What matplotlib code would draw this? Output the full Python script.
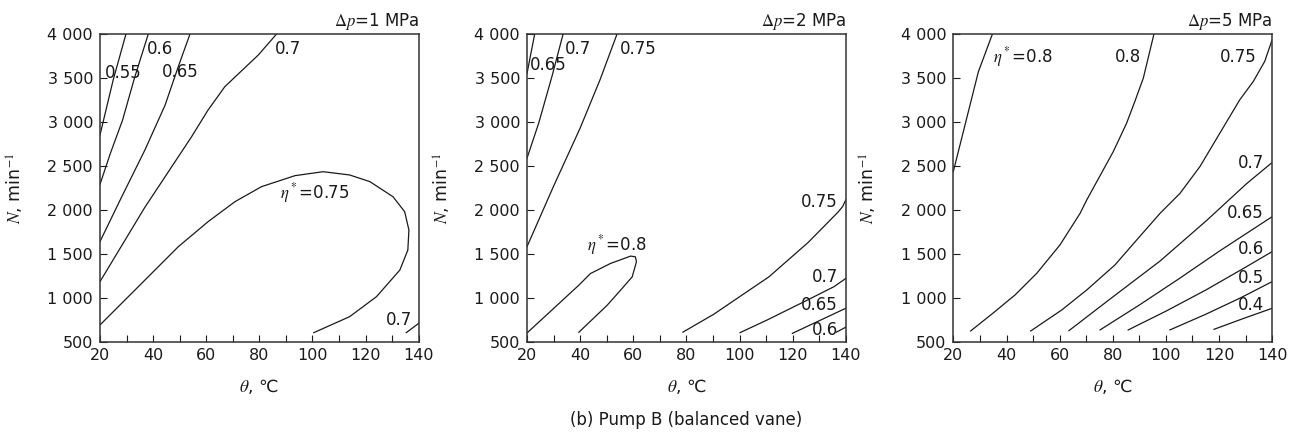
import matplotlib.pyplot as plt

plt.rcParams['font.family'] = ['DejaVu Sans']
plt.rcParams['mathtext.fontset'] = 'stix'

THETA_TICKS = [20, 40, 60, 80, 100, 120, 140]
N_TICKS = [500, 1000, 1500, 2000, 2500, 3000, 3500, 4000]
N_TICK_LABELS = ['500', '1 000', '1 500', '2 000', '2 500', '3 000', '3 500', '4 000']
PRESSURES = [1, 2, 5]

# efficiency contours, dp = 1 MPa  (theta in degC, N in 1/min)
t1_055 = [20, 25, 29.8]
n1_055 = [2850, 3480, 4000]
t1_060 = [20, 24, 28.5, 33, 38.2]
n1_060 = [2290, 2650, 3020, 3500, 4000]
t1_065 = [20, 28.2, 36.9, 44.5, 49.5, 53.9]
n1_065 = [1640, 2150, 2680, 3190, 3630, 4000]
t1_070 = [20, 36.9, 54.5, 60.7, 67.0, 79.6, 86.5]
n1_070 = [1185, 2030, 2833, 3136, 3401, 3761, 4000]
t1_075 = [20, 33.2, 49.5, 60.7, 70.8, 80.8, 93.4, 104.0, 114.0, 121.6, 130.3,
          134.7, 136.3, 135.9, 132.9, 124.1, 114.0, 100.5]
n1_075 = [693, 1091, 1583, 1867, 2094, 2265, 2390, 2435, 2398, 2322, 2151,
          1981, 1773, 1545, 1318, 1015, 788, 606]
t1_070b = [135.3, 140]
n1_070b = [606, 712]

# dp = 2 MPa
t2_065 = [20, 22.9]
n2_065 = [3550, 4000]
t2_070 = [20, 24.4, 29.4, 33.6]
n2_070 = [2588, 2986, 3518, 4000]
t2_075 = [20, 30, 40, 47.5, 53.9]
n2_075 = [1583, 2270, 2930, 3480, 4000]
t2_080 = [20, 39.5, 43.9, 51.4, 59.0, 60.8, 61.2, 59.6, 55.2, 50.2, 39.5]
n2_080 = [602, 1145, 1278, 1392, 1476, 1468, 1411, 1240, 1088, 918, 610]
t2_075b = [78.7, 90.3, 111.1, 125.8, 136.9, 138.8, 140]
n2_075b = [612, 815, 1241, 1630, 1970, 2038, 2114]
t2_070b = [100.2, 110.4, 125.6, 135.6, 140]
n2_070b = [606, 750, 977, 1129, 1222]
t2_065b = [119.9, 130.6, 140]
n2_065b = [598, 750, 883]
t2_060b = [136.5, 140]
n2_060b = [612, 668]

# dp = 5 MPa
t3_080a = [20, 29.4, 34.7]
n3_080a = [2440, 3570, 4000]
t3_080 = [26.5, 35, 43.2, 51.4, 60.1, 67.7, 70.2, 76.4, 80.2, 85.2, 88.3, 91.5, 95.5]
n3_080 = [625, 830, 1034, 1281, 1602, 1962, 2114, 2455, 2664, 2986, 3233, 3499, 4000]
t3_075 = [49.1, 60.8, 70.2, 80.8, 89.0, 97.8, 105.3, 112.8, 120.3, 127.8, 132.9, 137.2, 140]
n3_075 = [625, 864, 1091, 1375, 1659, 1962, 2189, 2493, 2873, 3252, 3461, 3689, 3935]
t3_070 = [63.5, 80.8, 97.8, 115.3, 130.4, 140]
n3_070 = [629, 1030, 1420, 1880, 2300, 2540]
t3_065 = [75.2, 90, 105, 120, 140]
n3_065 = [637, 920, 1220, 1530, 1924]
t3_060 = [85.8, 100, 115, 130, 140]
n3_060 = [637, 850, 1090, 1350, 1527]
t3_050 = [101.5, 115, 128, 140]
n3_050 = [637, 815, 1000, 1186]
t3_040 = [118.1, 129, 140]
n3_040 = [644, 765, 883]

curves = [
    [(t1_055, n1_055), (t1_060, n1_060), (t1_065, n1_065), (t1_070, n1_070),
     (t1_075, n1_075), (t1_070b, n1_070b)],
    [(t2_065, n2_065), (t2_070, n2_070), (t2_075, n2_075), (t2_080, n2_080),
     (t2_075b, n2_075b), (t2_070b, n2_070b), (t2_065b, n2_065b), (t2_060b, n2_060b)],
    [(t3_080a, n3_080a), (t3_080, n3_080), (t3_075, n3_075), (t3_070, n3_070),
     (t3_065, n3_065), (t3_060, n3_060), (t3_050, n3_050), (t3_040, n3_040)],
]

labels = [
    [('0.55', 21.9, 3557), ('0.6', 37.8, 3826), ('0.65', 43.2, 3572),
     ('0.7', 85.8, 3826), (r'$\eta^*$=0.75', 87.7, 2190), ('0.7', 127.8, 750)],
    [('0.65', 21.1, 3648), ('0.7', 34.3, 3826), ('0.75', 55.1, 3826),
     (r'$\eta^*$=0.8', 42.5, 1602), ('0.75', 123.0, 2094), ('0.7', 127.4, 1242),
     ('0.65', 123.0, 920), ('0.6', 127.4, 636)],
    [(r'$\eta^*$=0.8', 35.0, 3742), ('0.8', 80.8, 3742), ('0.75', 120.3, 3742),
     ('0.7', 127.2, 2531), ('0.65', 122.8, 1962), ('0.6', 127.2, 1557),
     ('0.5', 127.2, 1224), ('0.4', 127.2, 920)],
]

fig = plt.figure(figsize=(12.98, 4.33), dpi=100)
lefts = [0.0770, 0.4060, 0.7345]
ink = '#1a1a1a'

for i, left in enumerate(lefts):
    ax = fig.add_axes([left, 0.2102, 0.2456, 0.7113])
    for t, n in curves[i]:
        ax.plot(t, n, color=ink, lw=0.9)
    for txt, x, y in labels[i]:
        ax.text(x, y, txt, fontsize=12, ha='left', va='center', color=ink)

    ax.set_xlim(20, 140)
    ax.set_ylim(500, 4000)
    ax.set_xticks(THETA_TICKS)
    ax.set_xticks(range(30, 140, 20), minor=True)
    ax.set_yticks(N_TICKS)
    ax.set_yticklabels(N_TICK_LABELS)
    ax.tick_params(which='both', direction='in', length=5, width=0.8,
                   labelsize=11.5, colors=ink, top=False, right=False)
    ax.tick_params(axis='x', pad=4)
    ax.tick_params(axis='y', pad=5)
    for sp in ax.spines.values():
        sp.set_linewidth(1.1)
        sp.set_color('#333333')

    ax.set_xlabel(r'$\theta$, ℃', fontsize=12.5, color=ink, va='center')
    ax.xaxis.set_label_coords(0.5, -0.146)
    ax.set_ylabel(r'$N$, min$^{-1}$', fontsize=12.5, color=ink, va='center')
    ax.yaxis.set_label_coords(-0.266, 0.5)

    ax.text(1.0, 1.042, r'$\Delta p$=%d MPa' % PRESSURES[i], transform=ax.transAxes,
            fontsize=12, ha='right', va='center', color=ink)

fig.text(0.5285, 0.030, '(b) Pump B (balanced vane)', fontsize=12,
         ha='center', va='center', color=ink)

fig.savefig('out.png', dpi=100)
